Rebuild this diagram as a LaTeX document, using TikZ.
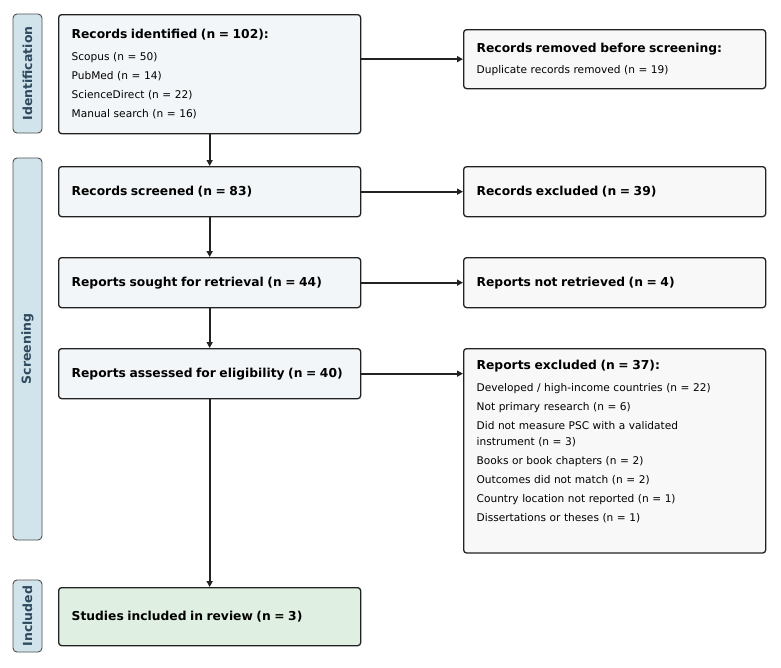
\documentclass[tikz,border=0pt]{standalone}
\usepackage{fontspec}
\setmainfont{DejaVu Sans}
\usepackage{tikz}
\usetikzlibrary{arrows.meta}
\definecolor{cframe}{HTML}{222222}
\definecolor{cmain}{HTML}{F3F6F8}
\definecolor{cside}{HTML}{F8F8F8}
\definecolor{cincl}{HTML}{DFF0E3}
\definecolor{cphase}{HTML}{D2E4EB}
\definecolor{cphasetext}{HTML}{2E4A5E}

\newcommand{\boxtitle}[1]{{\fontsize{12.3}{16}\selectfont\bfseries #1}}

\begin{document}
\begin{tikzpicture}[x=1pt, y=-1pt,
  box/.style={draw=cframe, line width=1.3pt, rounded corners=3pt, fill=cmain,
    anchor=north west, text width=276pt, inner xsep=13pt, inner ysep=9pt, align=left,
    font=\fontsize{10.6}{16}\selectfont},
  sidebox/.style={box, fill=cside},
  phase/.style={draw=cframe!80, line width=0.9pt, rounded corners=4pt, fill=cphase,
    rotate=90, minimum height=29pt, inner sep=0pt, text=cphasetext,
    font=\fontsize{12.5}{14}\selectfont\bfseries},
  arr/.style={draw=cframe, line width=1.9pt, -{Triangle[length=6pt, width=6pt]}}]

  \useasboundingbox (0, 0) rectangle (781, 667);

  % phases
  \node (pident) [phase, minimum width=119pt] at (27.5, 73.5) {Identification};
  \node (pscreen) [phase, minimum width=382pt] at (27.5, 349) {Screening};
  \node (pincl) [phase, minimum width=72pt] at (27.5, 616) {Included};

  % main column
  \node (ident) [box, minimum height=119pt] at (58, 14) {\boxtitle{Records identified (n = 102):}\\[6.5pt]
    Scopus (n = 50)\\[3pt]
    PubMed (n = 14)\\[3pt]
    ScienceDirect (n = 22)\\[3pt]
    Manual search (n = 16)};
  \node (screened) [box, minimum height=50pt] at (58, 166) {\boxtitle{Records screened (n = 83)}};
  \node (sought) [box, minimum height=50pt] at (58, 257) {\boxtitle{Reports sought for retrieval (n = 44)}};
  \node (assessed) [box, minimum height=50pt] at (58, 348) {\boxtitle{Reports assessed for eligibility (n = 40)}};
  \node (included) [box, fill=cincl, minimum height=58pt] at (58, 587) {\boxtitle{Studies included in review (n = 3)}};

  % side column
  \node (removed) [sidebox, minimum height=59pt] at (463, 29) {\boxtitle{Records removed before screening:}\\[5pt]
    Duplicate records removed (n = 19)};
  \node (excluded) [sidebox, minimum height=50pt] at (463, 166) {\boxtitle{Records excluded (n = 39)}};
  \node (notret) [sidebox, minimum height=50pt] at (463, 257) {\boxtitle{Reports not retrieved (n = 4)}};
  \node (rexcl) [sidebox, inner ysep=11pt] at (463, 348) {\boxtitle{Reports excluded (n = 37):}\\[6pt]
    Developed / high-income countries (n = 22)\\[3pt]
    Not primary research (n = 6)\\[3pt]
    Did not measure PSC with a validated\\
    instrument (n = 3)\\[3pt]
    Books or book chapters (n = 2)\\[3pt]
    Outcomes did not match (n = 2)\\[3pt]
    Country location not reported (n = 1)\\[3pt]
    Dissertations or theses (n = 1)\rule[-21pt]{0pt}{21pt}};

  % arrows
  \draw [arr] (ident) -- (screened);
  \draw [arr] (screened) -- (sought);
  \draw [arr] (sought) -- (assessed);
  \draw [arr] (assessed) -- (included);

  \draw [arr] (ident.east |- removed.west) -- (removed.west);
  \draw [arr] (screened) -- (excluded);
  \draw [arr] (sought) -- (notret);
  \draw [arr] (assessed.east) -- (assessed.east -| rexcl.west);

\end{tikzpicture}
\end{document}
